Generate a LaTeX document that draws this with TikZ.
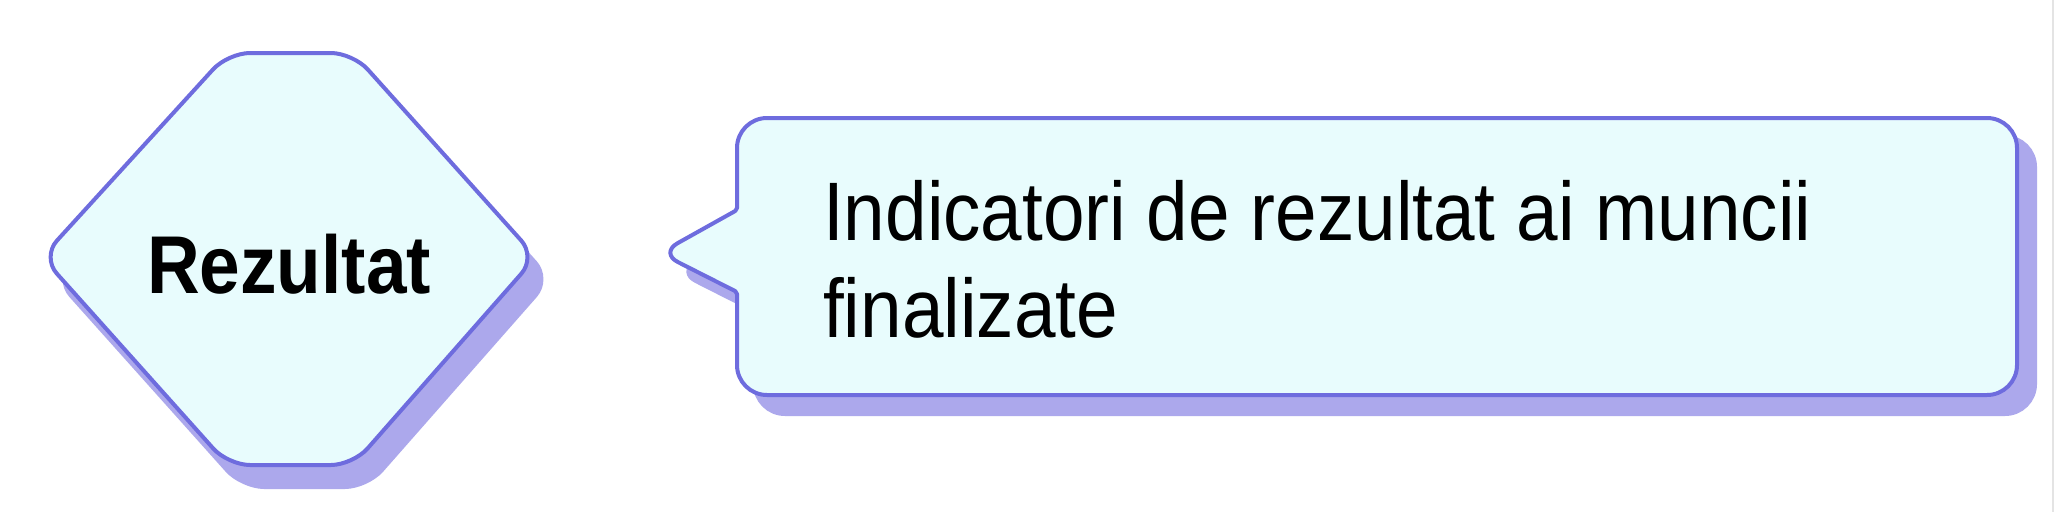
\documentclass[tikz,border=0pt]{standalone}
\usepackage{graphicx}
\usepackage{fontspec}
\setmainfont{Liberation Sans}
\definecolor{boxfill}{HTML}{E8FCFD}
\definecolor{boxline}{HTML}{6E6CDE}
\definecolor{boxshadow}{HTML}{ACA8EC}
\definecolor{edgegray}{HTML}{E4E4E4}
\tikzset{
  shapebox/.style={fill=boxfill, draw=boxline, line width=4pt, line join=round},
  shadowbox/.style={fill=boxshadow, draw=boxshadow, line width=4pt, line join=round},
  labeltext/.style={inner sep=0pt, text=black},
}
\begin{document}
\begin{tikzpicture}[x=1pt,y=-1pt]
\useasboundingbox (0,0) rectangle (2056,512);
\fill[white] (0,0) rectangle (2056,512);
\draw[edgegray, line width=1.5pt] (2053,0) -- (2053,512);
% diamond shadow
\path[shadowbox, rounded corners=22pt, shift={(14,22)}]
  (228,53) -- (353,53) -- (536,257) -- (353,465) -- (228,465) -- (42,257) -- cycle;
% diamond
\path[shapebox, rounded corners=22pt]
  (228,53) -- (353,53) -- (536,257) -- (353,465) -- (228,465) -- (42,257) -- cycle;
\node[labeltext, anchor=base] (rez) at (289,293)
  {\scalebox{0.89}[1]{\fontsize{82}{96}\selectfont\bfseries Rezultat}};
% callout shadow
\path[shadowbox, rounded corners=30pt, shift={(18,19)}]
  (900,118) -- (2017,118) -- (2017,395) -- (737,395)
  [rounded corners=2pt] -- (737,292)
  [rounded corners=20pt] -- (660,253)
  [rounded corners=2pt] -- (737,210)
  [rounded corners=30pt] -- (737,118) -- cycle;
% callout
\path[shapebox, rounded corners=30pt]
  (900,118) -- (2017,118) -- (2017,395) -- (737,395)
  [rounded corners=2pt] -- (737,292)
  [rounded corners=20pt] -- (660,253)
  [rounded corners=2pt] -- (737,210)
  [rounded corners=30pt] -- (737,118) -- cycle;
\node[labeltext, anchor=base west] (t1) at (823,240)
  {\scalebox{0.9}[1]{\fontsize{83}{97}\selectfont Indicatori de rezultat ai muncii}};
\node[labeltext, anchor=base west] (t2) at (823,337)
  {\scalebox{0.9}[1]{\fontsize{83}{97}\selectfont finalizate}};
\end{tikzpicture}
\end{document}
